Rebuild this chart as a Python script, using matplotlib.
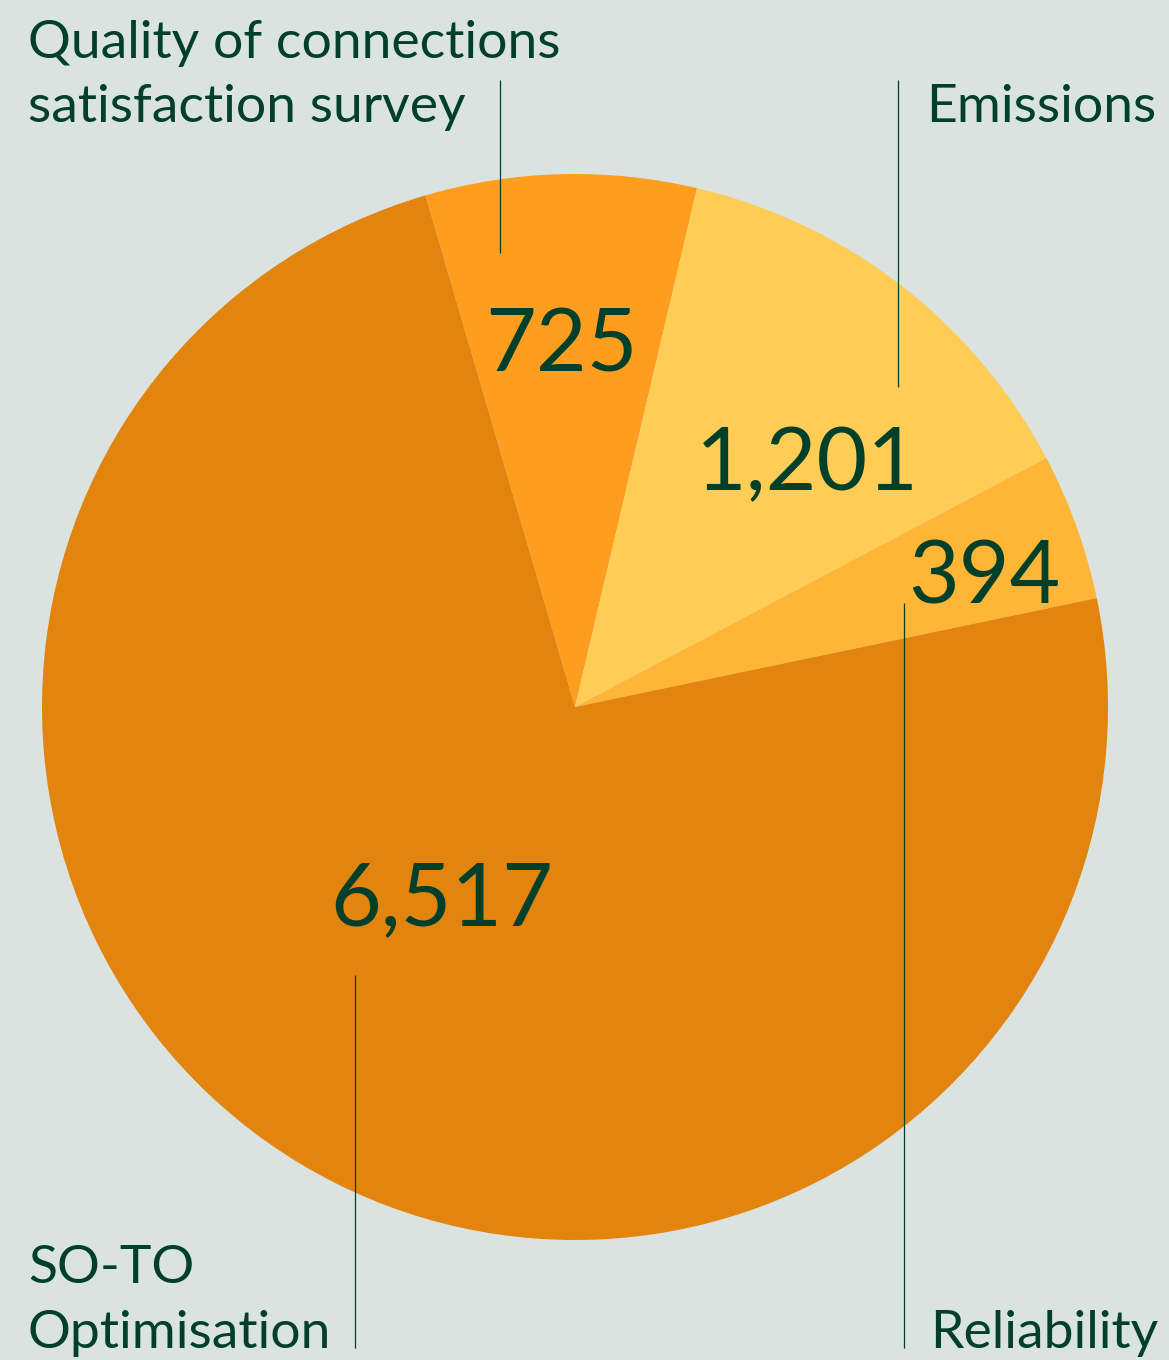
import matplotlib
matplotlib.use("Agg")
import matplotlib.pyplot as plt

categories = ["Quality of connections\nsatisfaction survey", "Emissions", "Reliability", "SO-TO\nOptimisation"]
values = [725, 1201, 394, 6517]
value_labels = ["725", "1,201", "394", "6,517"]
colors = ["#FF9D1E", "#FFCD55", "#FFB535", "#E2840D"]

W, H = 1169, 1360
BG = "#DAE3E0"
TXT = "#00402A"
FONT = ["Lato", "DejaVu Sans"]

fig = plt.figure(figsize=(W / 100, H / 100), dpi=100, facecolor=BG)
ax = fig.add_axes([0, 0, 1, 1])
ax.set_facecolor(BG)

cx, cy, r = 575, H - 707, 533
ax.pie(values, colors=colors, startangle=106.3, counterclock=False,
       center=(cx, cy), radius=r, frame=True,
       wedgeprops=dict(linewidth=0))
ax.set_xlim(0, W)
ax.set_ylim(0, H)
ax.set_aspect("equal")
ax.axis("off")

def Y(py):
    return H - py

# value labels (position in pixels of reference)
num_pos = [(562, 372), (807, 490), (984, 603), (442, 925)]
for (x, y), t in zip(num_pos, value_labels):
    ax.text(x, Y(y), t, ha="center", va="baseline", fontsize=63,
            color=TXT, family=FONT)

# leader lines
lines = [(500, 80, 253), (898, 80, 387), (904, 603, 1348), (355, 975, 1348)]
for x, y1, y2 in lines:
    ax.plot([x, x], [Y(y1), Y(y2)], color=TXT, lw=0.9, solid_capstyle="butt")

# category labels
lab_kw = dict(fontsize=38.5, color=TXT, family=FONT, va="baseline", ha="left")
ax.text(28, Y(58), "Quality of connections", **lab_kw)
ax.text(28, Y(122), "satisfaction survey", **lab_kw)
ax.text(926, Y(122), "Emissions", **lab_kw)
ax.text(28, Y(1283), "SO-TO", **lab_kw)
ax.text(28, Y(1348), "Optimisation", **lab_kw)
ax.text(930, Y(1348), "Reliability", **lab_kw)

fig.savefig("out.png", dpi=100, facecolor=BG)
